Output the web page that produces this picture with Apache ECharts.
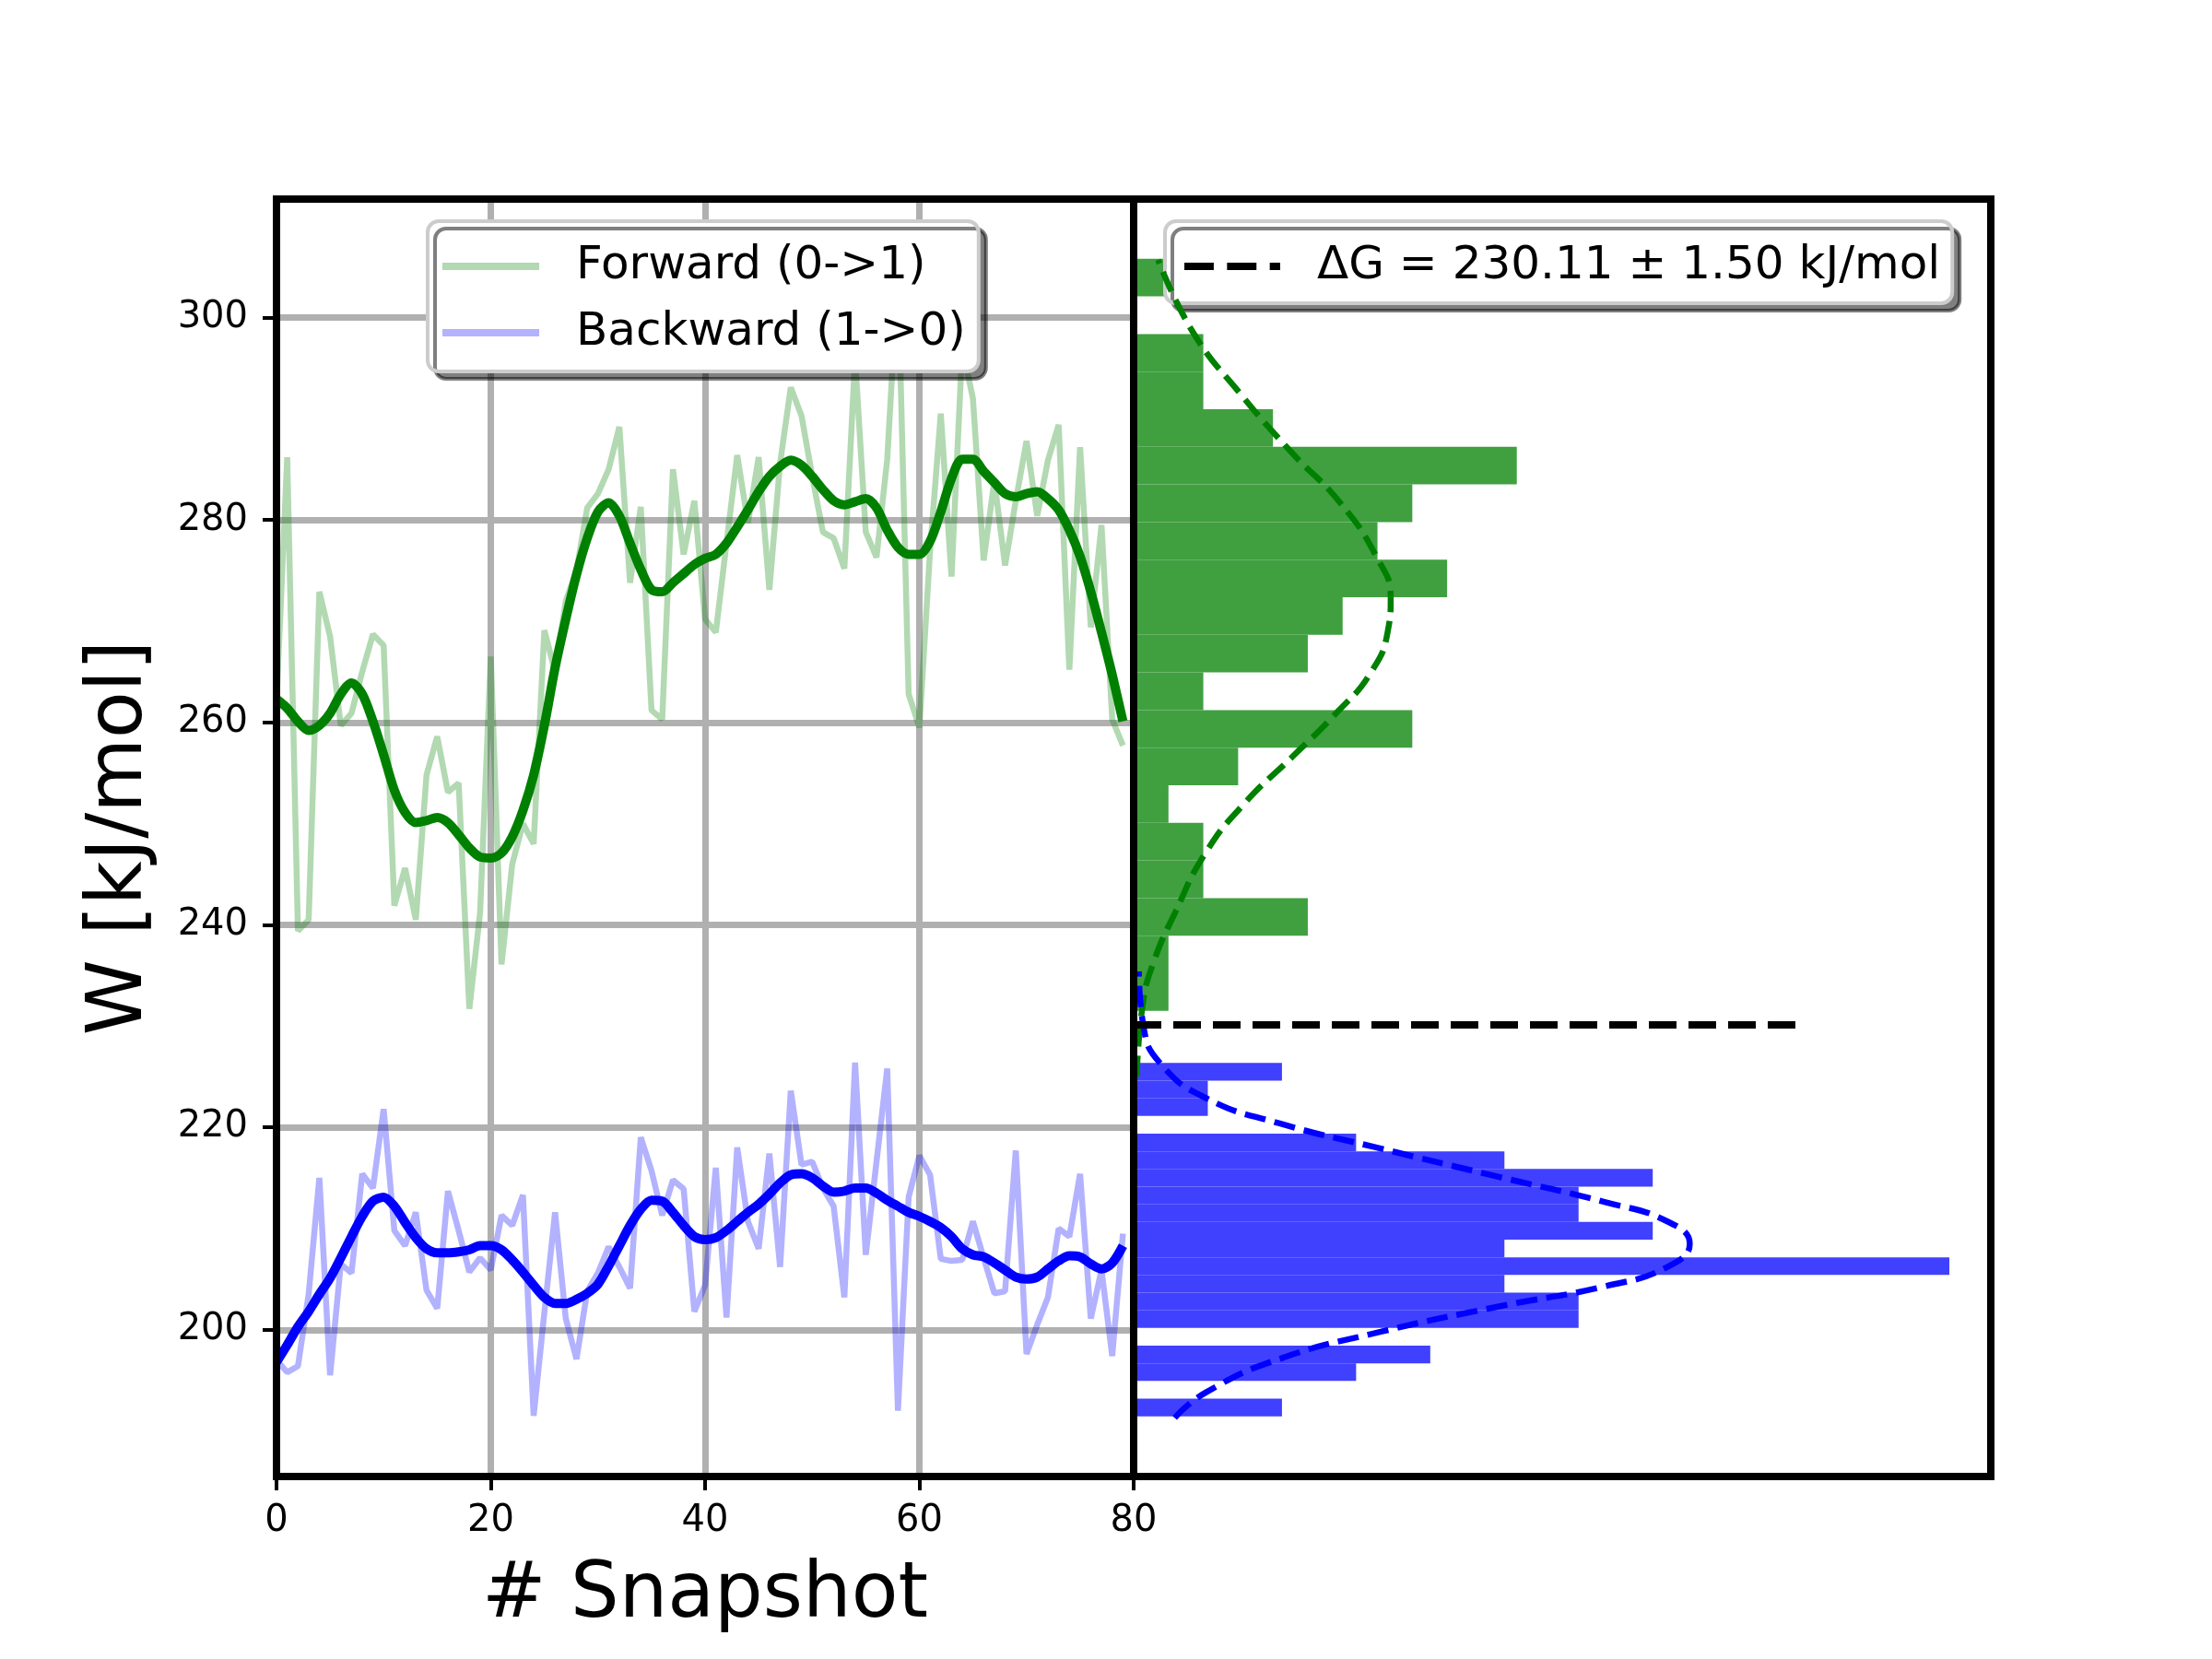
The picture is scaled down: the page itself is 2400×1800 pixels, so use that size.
<!DOCTYPE html>
<html>
<head>
<meta charset="utf-8">
<script src="https://cdn.jsdelivr.net/npm/echarts@6/dist/echarts.min.js"></script>
<style>
html,body{margin:0;padding:0;background:#fff;}
#chart{width:2400px;height:1800px;}
</style>
</head>
<body>
<div id="chart"></div>
<script>
// raw work values per snapshot (index = snapshot number)
var forwardRaw = [262, 286.2, 239.4, 240.5, 272.9, 268.5, 259.7, 260.9, 265, 268.7,
    267.6, 241.9, 245.6, 240.5, 254.8, 258.6, 253.1, 254, 231.7, 241.2,
    266.5, 236.1, 246, 250, 248, 269.1, 265, 272, 275, 281.2,
    282.6, 285, 289.2, 273.8, 281.3, 261.2, 260.3, 285, 276.6, 281.9,
    270.2, 268.9, 277.7, 286.4, 279.7, 286.2, 273.1, 285.6, 293.1, 290.3,
    284.3, 278.8, 278.2, 275.2, 296, 278.8, 276.3, 286, 304.5, 262.8,
    259.5, 277, 290.5, 274.4, 297, 292, 276, 283.9, 275.5, 281.9,
    287.8, 280.4, 285.9, 289.4, 265.2, 287.2, 269.4, 279.5, 260.3, 257.7];
var forwardSmooth = [262.3, 261.4, 260.1, 259.2, 259.7, 260.9, 262.8, 263.9, 262.8, 260.1,
    256.8, 253.3, 251.1, 250.1, 250.3, 250.6, 250.1, 248.9, 247.6, 246.7,
    246.6, 247.1, 248.7, 251.3, 254.8, 259.7, 265.4, 270.2, 274.6, 278.2,
    280.8, 281.7, 280.4, 277.7, 275.1, 273.1, 272.9, 273.8, 274.7, 275.6,
    276.2, 276.6, 277.7, 279.3, 281, 282.8, 284.3, 285.3, 285.9, 285.4,
    284.3, 283, 281.9, 281.5, 281.8, 282.1, 281.2, 279, 277.3, 276.6,
    276.6, 277.9, 280.8, 284.1, 286, 286, 284.8, 283.7, 282.6, 282.3,
    282.6, 282.8, 282.1, 281, 279, 276.4, 272.9, 268.9, 264.7, 260.1];
var backwardRaw = [197, 195.8, 196.4, 203.5, 215, 195.5, 206.5, 205.6, 215.4, 214,
    221.8, 209.8, 208.3, 211.6, 203.9, 202.1, 213.7, 209.8, 205.7, 207.1,
    205.9, 211.3, 210.3, 213.3, 191.5, 201.7, 211.6, 201.1, 197.1, 203.8,
    205.6, 208.2, 206.2, 204.1, 219, 215.7, 211.3, 214.8, 213.9, 201.8,
    204.4, 216, 201.2, 218, 210.7, 208, 217.4, 206.2, 223.6, 216.3,
    216.6, 214, 212.2, 203.2, 226.4, 207.4, 216.6, 225.8, 192, 213.1,
    217.2, 215.3, 207, 206.8, 206.9, 210.7, 207.1, 203.6, 203.8, 217.7,
    197.6, 200.5, 203.2, 210, 209.2, 215.4, 201.1, 205.9, 197.4, 209.5];
var backwardSmooth = [196.8, 198.5, 200.3, 201.8, 203.5, 205.1, 207.1, 209.2, 211.2, 212.7,
    213.1, 212.2, 210.6, 209.1, 208, 207.6, 207.6, 207.7, 207.9, 208.3,
    208.3, 207.9, 206.9, 205.7, 204.4, 203.2, 202.6, 202.6, 203, 203.6,
    204.5, 206.3, 208.3, 210.3, 211.9, 212.8, 212.7, 211.6, 210.3, 209.2,
    208.9, 209.1, 209.8, 210.7, 211.6, 212.4, 213.4, 214.5, 215.3, 215.4,
    215, 214.2, 213.6, 213.7, 214, 214, 213.5, 212.8, 212.2, 211.6,
    211.2, 210.7, 210.1, 209.2, 208, 207.4, 207.2, 206.6, 205.9, 205.2,
    205, 205.2, 206, 206.8, 207.3, 207.2, 206.5, 206, 206.6, 208.3];

// histogram counts, lowest bin first
var forwardBinStart = 231.5;
var forwardBinWidth = 3.715;
var forwardCounts = [1, 1, 5, 2, 2, 1, 3, 8, 2, 5, 6, 9, 7, 8, 11, 4, 2, 2, 0, 1];
var backwardBinStart = 191.45;
var backwardBinWidth = 1.745;
var backwardCounts = [2, 0, 3, 4, 0, 6, 6, 5, 11, 5, 7, 6, 6, 7, 5, 3, 0, 1, 1, 2];

// fitted normal curves: [density, W]
var forwardFit = [[0.0003, 225], [0.00089, 232.2], [0.00192, 236.3], [0.0040, 241.2], [0.00694, 247.1],
    [0.01079, 252.1], [0.01523, 256.5], [0.01965, 261], [0.0229, 264.9], [0.02453, 268.9],
    [0.02483, 272.3], [0.02349, 276.3], [0.01995, 281.7], [0.01523, 286.7], [0.0102, 292.6],
    [0.00576, 298.5], [0.00236, 305.7]];
var backwardFit = [[0.00396, 191.3], [0.00696, 193.8], [0.01404, 197.1], [0.02387, 199.8], [0.03527, 202.3],
    [0.04557, 204.3], [0.05156, 206.2], [0.05372, 208.5], [0.05156, 210.7], [0.04557, 212.6],
    [0.03527, 215.1], [0.02387, 217.9], [0.01404, 220.4], [0.00696, 222.9], [0.00259, 226.3],
    [0.00096, 229.9], [0.0005, 235.4]];

var deltaG = 230.11;
var deltaGLineEnd = 0.0647;
var deltaGLabel = 'ΔG = 230.11 ± 1.50 kJ/mol';

var wTicks = [200, 220, 240, 260, 280, 300];
var wMin = 185.5, wMax = 311.7;
var densityMax = 0.0828;

var FONT = 'DejaVu Sans';
var LINE_ICON = 'rect';
// dashed sample for the ΔG legend entry
var DASH_ICON = 'path://M0,0H31V8H0Z M45,0H76V8H45Z M90,0H101V8H90Z';

function toPairs(arr) {
    var out = [];
    for (var i = 0; i < arr.length; i++) {
        out.push([i, arr[i]]);
    }
    return out;
}

// normed histogram -> [lo, hi, density]
function histData(start, width, counts) {
    var n = 0, out = [];
    for (var i = 0; i < counts.length; i++) n += counts[i];
    for (var k = 0; k < counts.length; k++) {
        out.push([start + k * width, start + (k + 1) * width, counts[k] / (n * width)]);
    }
    return out;
}

function renderBar(params, api) {
    var p0 = api.coord([0, api.value(1)]);
    var p1 = api.coord([api.value(2), api.value(0)]);
    return {
        type: 'rect',
        shape: {x: p0[0], y: p0[1], width: p1[0] - p0[0], height: p1[1] - p0[1]},
        style: {fill: api.visual('color')}
    };
}

var legendBox = {
    orient: 'vertical',
    backgroundColor: '#fff',
    borderColor: '#cccccc',
    borderWidth: 4,
    borderRadius: 12,
    shadowColor: 'rgba(0,0,0,0.5)',
    shadowBlur: 0,
    shadowOffsetX: 8,
    shadowOffsetY: 8,
    selectedMode: false,
    symbolKeepAspect: false,
    itemHeight: 8,
    itemGap: 22,
    textStyle: {fontFamily: FONT, fontSize: 50, color: '#000', lineHeight: 50, padding: [0, 0, 0, 35]}
};

var chart = echarts.init(document.getElementById('chart'));
var option = {
    backgroundColor: '#fff',
    animation: false,
    legend: [
        echarts.util.merge({left: 464, top: 240, padding: [24, 14, 17, 16], itemWidth: 105,
            data: [{name: 'Forward (0->1)', icon: LINE_ICON}, {name: 'Backward (1->0)', icon: LINE_ICON}]}, legendBox),
        echarts.util.merge({left: 1264, top: 240, padding: [24, 13, 15, 21], itemWidth: 104,
            data: [{name: deltaGLabel, icon: DASH_ICON}]}, legendBox)
    ],
    grid: [
        {left: 300, top: 216, width: 930, height: 1386, show: true, z: 10,
            backgroundColor: 'transparent', borderColor: '#000', borderWidth: 8},
        {left: 1230, top: 216, width: 930, height: 1386, show: true, z: 10,
            backgroundColor: 'transparent', borderColor: '#000', borderWidth: 8}
    ],
    xAxis: [
        {
            gridIndex: 0, type: 'value', min: 0, max: 80, interval: 20,
            name: '# Snapshot', nameLocation: 'middle', nameGap: 89,
            nameTextStyle: {fontFamily: FONT, fontSize: 83, color: '#000'},
            axisLine: {show: false},
            axisTick: {show: true, length: 15, lineStyle: {color: '#000', width: 4}},
            axisLabel: {fontFamily: FONT, fontSize: 40, color: '#000', margin: 29},
            splitLine: {show: true, lineStyle: {color: '#b0b0b0', width: 7}}
        },
        {
            gridIndex: 1, type: 'value', min: 0, max: densityMax,
            axisLine: {show: false}, axisTick: {show: false},
            axisLabel: {show: false}, splitLine: {show: false}
        }
    ],
    yAxis: [
        {
            gridIndex: 0, type: 'value', min: wMin, max: wMax,
            name: 'W [kJ/mol]', nameLocation: 'middle', nameGap: 127, nameRotate: 90,
            nameTextStyle: {fontFamily: FONT, fontSize: 83, color: '#000'},
            axisLine: {show: false},
            axisTick: {show: true, length: 15, customValues: wTicks, lineStyle: {color: '#000', width: 4}},
            axisLabel: {fontFamily: FONT, fontSize: 40, color: '#000', margin: 31, customValues: wTicks},
            splitLine: {show: true, lineStyle: {color: '#b0b0b0', width: 7}}
        },
        {
            gridIndex: 1, type: 'value', min: wMin, max: wMax,
            axisLine: {show: false}, axisTick: {show: false},
            axisLabel: {show: false}, splitLine: {show: false}
        }
    ],
    series: [
        {
            name: 'Forward (0->1)', type: 'line', xAxisIndex: 0, yAxisIndex: 0,
            data: toPairs(forwardRaw), symbol: 'none', z: 2,
            itemStyle: {color: 'rgba(0,128,0,0.3)'},
            lineStyle: {color: 'rgba(0,128,0,0.3)', width: 6.5}
        },
        {
            name: 'Backward (1->0)', type: 'line', xAxisIndex: 0, yAxisIndex: 0,
            data: toPairs(backwardRaw), symbol: 'none', z: 2,
            itemStyle: {color: 'rgba(0,0,255,0.3)'},
            lineStyle: {color: 'rgba(0,0,255,0.3)', width: 6.5}
        },
        {
            name: 'forward smooth', type: 'line', xAxisIndex: 0, yAxisIndex: 0,
            data: toPairs(forwardSmooth), symbol: 'none', smooth: 0.3, z: 3,
            lineStyle: {color: '#008000', width: 10}
        },
        {
            name: 'backward smooth', type: 'line', xAxisIndex: 0, yAxisIndex: 0,
            data: toPairs(backwardSmooth), symbol: 'none', smooth: 0.3, z: 3,
            lineStyle: {color: '#0000ff', width: 10}
        },
        {
            name: 'forward hist', type: 'custom', xAxisIndex: 1, yAxisIndex: 1,
            renderItem: renderBar, encode: {x: 2, y: [0, 1]},
            itemStyle: {color: '#40a040'}, z: 2,
            data: histData(forwardBinStart, forwardBinWidth, forwardCounts)
        },
        {
            name: 'backward hist', type: 'custom', xAxisIndex: 1, yAxisIndex: 1,
            renderItem: renderBar, encode: {x: 2, y: [0, 1]},
            itemStyle: {color: '#4040ff'}, z: 2,
            data: histData(backwardBinStart, backwardBinWidth, backwardCounts)
        },
        {
            name: 'forward fit', type: 'line', xAxisIndex: 1, yAxisIndex: 1,
            data: forwardFit, symbol: 'none', smooth: true, z: 4,
            lineStyle: {color: '#008000', width: 6.5, type: [23, 10]}
        },
        {
            name: 'backward fit', type: 'line', xAxisIndex: 1, yAxisIndex: 1,
            data: backwardFit, symbol: 'none', smooth: true, z: 4,
            lineStyle: {color: '#0000ff', width: 6.5, type: [23, 10]}
        },
        {
            name: deltaGLabel, type: 'line', xAxisIndex: 1, yAxisIndex: 1,
            data: [[0, deltaG], [deltaGLineEnd, deltaG]], symbol: 'none', z: 4,
            itemStyle: {color: '#000'},
            lineStyle: {color: '#000', width: 8, type: [30, 13]}
        }
    ]
};
chart.setOption(option);
</script>
</body>
</html>
